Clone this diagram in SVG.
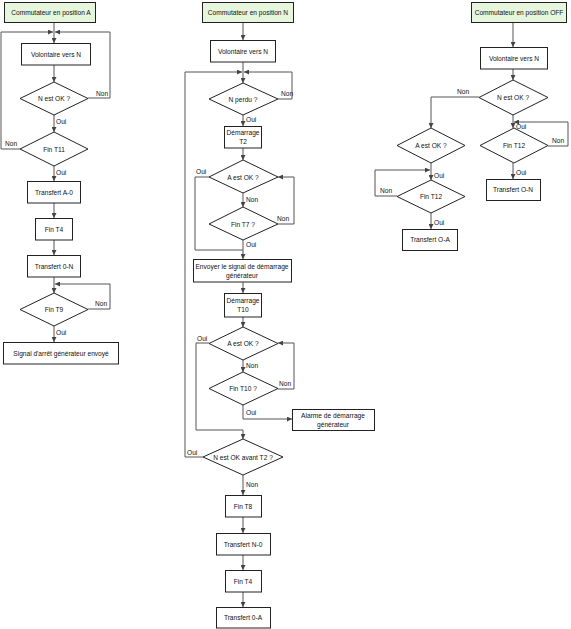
<svg xmlns="http://www.w3.org/2000/svg" width="571" height="629" viewBox="0 0 571 629">
<defs>
<marker id="ah" markerWidth="5" markerHeight="5" refX="5" refY="2.5" orient="auto" markerUnits="userSpaceOnUse">
<path d="M0,0 L5,2.5 L0,5 Z" fill="#444"/>
</marker>
<style>
.box{fill:#fff;stroke:#222;stroke-width:1}
.start{fill:#e6f6dc;stroke:#222;stroke-width:1}
.dia{fill:#fff;stroke:#222;stroke-width:1}
.c{fill:none;stroke:#555;stroke-width:1}
.a{fill:none;stroke:#555;stroke-width:1;marker-end:url(#ah)}
text{font-family:"Liberation Sans",Arial,sans-serif;font-size:6.6px;fill:#111}
.m{text-anchor:middle}
</style>
</defs>
<rect width="571" height="629" fill="#fff"/>

<g id="connectors">
<!-- Column A -->
<path class="c" d="M54,22 V32"/>
<path class="a" d="M54,32 V43"/>
<path class="a" d="M54,65 V82"/>
<path class="a" d="M88,98 H110 V32 H55"/>
<path class="a" d="M54,115 V132"/>
<path class="a" d="M20,149 H1 V32 H53"/>
<path class="a" d="M54,166 V181"/>
<path class="a" d="M54,203 V218"/>
<path class="a" d="M54,240 V255"/>
<path class="a" d="M54,277 V293"/>
<path class="a" d="M88,309 H110 V284 H55"/>
<path class="a" d="M54,326 V342"/>
<!-- Column N -->
<path class="a" d="M243,22 V40"/>
<path class="a" d="M243,62 V83"/>
<path class="a" d="M278,99 H292 V72 H244"/>
<path class="a" d="M243,115 V126"/>
<path class="a" d="M243,148 V160"/>
<path class="c" d="M209,177 H195 V250 H243"/>
<path class="a" d="M243,193 V207"/>
<path class="a" d="M278,224 H294 V177 H278"/>
<path class="a" d="M243,240 V259"/>
<path class="a" d="M243,282 V293"/>
<path class="a" d="M243,317 V327"/>
<path class="c" d="M209,343 H196 V430 H243"/>
<path class="a" d="M243,360 V372"/>
<path class="a" d="M278,389 H294 V343 H278"/>
<path class="a" d="M243,405 V419 H292"/>
<path class="a" d="M243,430 V439"/>
<path class="a" d="M203,457 H185 V72 H242"/>
<path class="a" d="M243,475 V495"/>
<path class="a" d="M243,517 V533"/>
<path class="a" d="M243,555 V570"/>
<path class="a" d="M243,592 V607"/>
<!-- Column OFF -->
<path class="a" d="M513,22 V47"/>
<path class="a" d="M513,69 V80"/>
<path class="a" d="M479,97 H431 V128"/>
<path class="a" d="M513,115 V128"/>
<path class="a" d="M548,146 H568 V122 H514"/>
<path class="a" d="M513,163 V179"/>
<path class="a" d="M431,163 V180"/>
<path class="a" d="M397,196 H375 V170 H430"/>
<path class="a" d="M431,213 V229"/>
</g>

<!-- Column A nodes -->
<g id="a_start"><rect class="start" x="4.5" y="2.5" width="91" height="20"/><text class="m" x="51" y="15">Commutateur en position A</text></g>
<g id="a_vol"><rect class="box" x="21.5" y="43.5" width="69" height="21.5"/><text class="m" x="56" y="56.5">Volontaire vers N</text></g>
<g id="a_nok"><polygon class="dia" points="54,82 88,98.5 54,115 20,98.5"/><text class="m" x="54" y="101">N est OK ?</text></g>
<g id="a_t11"><polygon class="dia" points="54,132 88,149 54,166 20,149"/><text class="m" x="54" y="151.5">Fin T11</text></g>
<g id="a_tra0"><rect class="box" x="27.5" y="181.5" width="53" height="21.5"/><text class="m" x="54" y="194.5">Transfert A-0</text></g>
<g id="a_t4"><rect class="box" x="35.5" y="218.5" width="37" height="21.5"/><text class="m" x="54" y="231.5">Fin T4</text></g>
<g id="a_tr0n"><rect class="box" x="27.5" y="255.5" width="53" height="21.5"/><text class="m" x="54" y="268.5">Transfert 0-N</text></g>
<g id="a_t9"><polygon class="dia" points="54,293 88,309.5 54,326 20,309.5"/><text class="m" x="54" y="312">Fin T9</text></g>
<g id="a_sig"><rect class="box" x="3.5" y="342.5" width="115" height="21.5"/><text class="m" x="61" y="355.5">Signal d'arrêt générateur envoyé</text></g>
<g id="a_labels">
<text x="96" y="96">Non</text>
<text x="56" y="124">Oui</text>
<text x="5" y="146">Non</text>
<text x="56" y="175">Oui</text>
<text x="95" y="306">Non</text>
<text x="56" y="335">Oui</text>
</g>

<!-- Column N nodes -->
<g id="n_start"><rect class="start" x="202.5" y="2.5" width="91" height="20"/><text class="m" x="248" y="15">Commutateur en position N</text></g>
<g id="n_vol"><rect class="box" x="210.5" y="40.5" width="65" height="21.5"/><text class="m" x="243" y="53.5">Volontaire vers N</text></g>
<g id="n_perdu"><polygon class="dia" points="243,83 278,99 243,115 209,99"/><text class="m" x="243" y="101.5">N perdu ?</text></g>
<g id="n_t2"><rect class="box" x="224.5" y="126.5" width="37" height="21.5"/><text class="m" x="243" y="135">Démarrage</text><text class="m" x="243" y="144">T2</text></g>
<g id="n_aok1"><polygon class="dia" points="243,160 278,177 243,193 209,177"/><text class="m" x="243" y="179.5">A est OK ?</text></g>
<g id="n_t7"><polygon class="dia" points="243,207 278,224 243,240 209,224"/><text class="m" x="243" y="226.5">Fin T7 ?</text></g>
<g id="n_env"><rect class="box" x="193.5" y="259.5" width="98" height="22.5"/><text class="m" x="242" y="268.5">Envoyer le signal de démarrage</text><text class="m" x="242" y="277.5">générateur</text></g>
<g id="n_t10s"><rect class="box" x="224.5" y="293.5" width="37" height="23.5"/><text class="m" x="243" y="302.5">Démarrage</text><text class="m" x="243" y="311.5">T10</text></g>
<g id="n_aok2"><polygon class="dia" points="243,327 278,343.5 243,360 209,343.5"/><text class="m" x="243" y="346">A est OK ?</text></g>
<g id="n_t10"><polygon class="dia" points="243,372 278,388.5 243,405 209,388.5"/><text class="m" x="243" y="391">Fin T10 ?</text></g>
<g id="n_alarm"><rect class="box" x="292.5" y="409.5" width="82" height="21"/><text class="m" x="333" y="418">Alarme de démarrage</text><text class="m" x="333" y="427">générateur</text></g>
<g id="n_nokt2"><polygon class="dia" points="243,439 283,457 243,475 203,457"/><text class="m" x="243" y="459.5">N est OK avant T2 ?</text></g>
<g id="n_t8"><rect class="box" x="225.5" y="495.5" width="36" height="21.5"/><text class="m" x="243" y="508.5">Fin T8</text></g>
<g id="n_trn0"><rect class="box" x="216.5" y="533.5" width="54" height="21.5"/><text class="m" x="243" y="546.5">Transfert N-0</text></g>
<g id="n_t4"><rect class="box" x="225.5" y="570.5" width="36" height="21.5"/><text class="m" x="243" y="583.5">Fin T4</text></g>
<g id="n_tr0a"><rect class="box" x="216.5" y="607.5" width="54" height="20.5"/><text class="m" x="243" y="620">Transfert 0-A</text></g>
<g id="n_labels">
<text x="281" y="96">Non</text>
<text x="246" y="122">Oui</text>
<text x="196" y="174">Oui</text>
<text x="246" y="202">Non</text>
<text x="277" y="221">Non</text>
<text x="246" y="247">Oui</text>
<text x="197" y="341">Oui</text>
<text x="246" y="368">Non</text>
<text x="279" y="386">Non</text>
<text x="246" y="415">Oui</text>
<text x="187" y="455">Oui</text>
<text x="246" y="487">Non</text>
</g>

<!-- Column OFF nodes -->
<g id="o_start"><rect class="start" x="471.5" y="2.5" width="95" height="20"/><text class="m" x="519" y="15">Commutateur en position OFF</text></g>
<g id="o_vol"><rect class="box" x="480.5" y="47.5" width="67" height="21.5"/><text class="m" x="514" y="60.5">Volontaire vers N</text></g>
<g id="o_nok"><polygon class="dia" points="513,80 548,97.5 513,115 479,97.5"/><text class="m" x="513" y="100">N est OK ?</text></g>
<g id="o_aok"><polygon class="dia" points="431,128 465,145.5 431,163 397,145.5"/><text class="m" x="431" y="148">A est OK ?</text></g>
<g id="o_t12r"><polygon class="dia" points="514,128 548,145.5 514,163 480,145.5"/><text class="m" x="514" y="148">Fin T12</text></g>
<g id="o_t12l"><polygon class="dia" points="431,180 465,196.5 431,213 397,196.5"/><text class="m" x="431" y="199">Fin T12</text></g>
<g id="o_tron"><rect class="box" x="486.5" y="179.5" width="54" height="21"/><text class="m" x="513" y="192">Transfert O-N</text></g>
<g id="o_troa"><rect class="box" x="402.5" y="229.5" width="55" height="21"/><text class="m" x="430" y="242">Transfert O-A</text></g>
<g id="o_labels">
<text x="457" y="94">Non</text>
<text x="516" y="129">Oui</text>
<text x="552" y="143">Non</text>
<text x="516" y="175">Oui</text>
<text x="434" y="178">Oui</text>
<text x="380" y="193">Non</text>
<text x="434" y="225">Oui</text>
</g>
</svg>
